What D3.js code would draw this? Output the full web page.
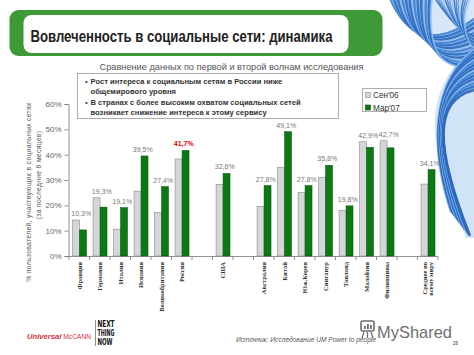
<!DOCTYPE html>
<html><head><meta charset="utf-8">
<script src="https://cdn.jsdelivr.net/npm/d3@7"></script>
<style>html,body{margin:0;padding:0;background:#fff;}svg{display:block;}</style>
</head><body>
<script>
const categories = ["Франция","Германия","Италия","Испания","Великобритания","Россия","","США","","Австралия","Китай","Юж.Корея","Сингапур","Таиланд","Малайзия","Филиппины","","Среднее по|всему миру"];
const sep06 = [14.2,23.0,10.6,25.6,17.1,38.3,null,28.3,null,19.6,35.0,25.0,31.1,18.0,45.1,45.5,null,28.4];
const mar07 = [10.3,19.3,19.1,39.5,27.4,41.7,null,32.6,null,27.8,49.1,27.8,35.8,19.8,42.9,42.7,null,34.1];
const yTicks = [0,10,20,30,40,50,60];
const seriesNames = ["Сен'06","Мар'07"];
const highlight = "Россия";
const bullets = [["Рост интереса к социальным сетям в России ниже","общемирового уровня"],["В странах с более высоким охватом социальных сетей","возникает снижение интереса к этому сервису"]];

const W=474,H=355;
const svg=d3.select("body").append("svg").attr("width",W).attr("height",H);
const F="'Liberation Sans', Arial, sans-serif";

// decorative swirl (top right)
const sw=svg.append("g");
const blues=["#1550a8","#2a6fcc","#5193df","#9cc6f0"];
sw.append("path").attr("d","M474,48 C442,70 428,110 438,150 C446,185 456,210 466,238 L474,238 Z").attr("fill","#bcd7f4").attr("opacity",0.7);
sw.append("path").attr("d","M398,0 C418,40 445,62 474,46 L474,0 Z").attr("fill","#c6ddf6").attr("opacity",0.7);
for(let i=0;i<44;i++){
  const t=i/43;
  sw.append("path")
    .attr("d",`M${390+t*42},0 C${402+t*25},${28+t*22} ${428+t*12},${52+t*18} 474,${18+t*50}`)
    .attr("fill","none").attr("stroke",blues[i%4])
    .attr("stroke-width",0.9+(i%3)*0.8).attr("opacity",0.75);
}
for(let i=0;i<48;i++){
  const t=i/47;
  sw.append("path")
    .attr("d",`M474,${48+t*42} C${436-t*4},${78+t*22} ${427+t*9},${138+t*12} ${450+t*20},${210+t*26}`)
    .attr("fill","none").attr("stroke",blues[(i+1)%4])
    .attr("stroke-width",0.9+(i%3)*0.9).attr("opacity",0.75);
}
for(let i=0;i<16;i++){
  const t=i/15;
  sw.append("path")
    .attr("d",`M${436+t*34},0 C${450+t*10},20 ${460+t*6},${32+t*10} 474,${36+t*12}`)
    .attr("fill","none").attr("stroke",blues[i%4]).attr("stroke-width",1.5).attr("opacity",0.75);
}

// title block
svg.append("rect").attr("x",9.5).attr("y",10).attr("width",373).attr("height",46).attr("rx",9).attr("fill","#3d9a37");
svg.append("rect").attr("x",23.5).attr("y",15).attr("width",325).attr("height",38).attr("rx",8).attr("fill","#fff");
svg.append("text").attr("x",30.5).attr("y",41.5).attr("font-family",F).attr("font-weight","bold").attr("font-size",16)
  .attr("fill","#222").attr("textLength",302).attr("lengthAdjust","spacingAndGlyphs")
  .text("Вовлеченность в социальные сети: динамика");

// subtitle
svg.append("text").attr("x",99.5).attr("y",70).attr("font-family",F).attr("font-size",9.5).attr("fill","#555")
  .attr("textLength",264).attr("lengthAdjust","spacingAndGlyphs")
  .text("Сравнение данных по первой и второй волнам исследования");

// bullet box
svg.append("rect").attr("x",77.5).attr("y",73.5).attr("width",261).attr("height",45).attr("fill","#fff").attr("stroke","#9a9a9a").attr("stroke-width",0.8);
const bl=[[83.5,93.5],[105,114.5]];
bullets.forEach((b,i)=>{
  svg.append("text").attr("x",85).attr("y",bl[i][0]).attr("font-family",F).attr("font-size",8).attr("fill","#444").text("•");
  b.forEach((ln,j)=>{
    svg.append("text").attr("x",90.5).attr("y",bl[i][j]).attr("font-family",F).attr("font-weight","bold")
      .attr("font-size",7.6).attr("fill","#333").text(ln);
  });
});

// legend
svg.append("rect").attr("x",362.5).attr("y",88.5).attr("width",64).attr("height",23).attr("fill","#fff").attr("stroke","#9a9a9a").attr("stroke-width",0.8);
const lc=[["#d4d6d8","#8a8a8a"],["#0b7a12","#0a4d0a"]];
seriesNames.forEach((n,i)=>{
  const yy=93+i*12.5;
  svg.append("rect").attr("x",365.5).attr("y",yy-0.5).attr("width",5).attr("height",5).attr("fill",lc[i][0]).attr("stroke",lc[i][1]).attr("stroke-width",0.6);
  svg.append("text").attr("x",373).attr("y",yy+5).attr("font-family",F).attr("font-size",8.2).attr("fill","#333").text(n);
});

// scales
const x=d3.scaleBand().domain(d3.range(categories.length)).range([69,438]).paddingInner(0.32).paddingOuter(0.16);
const y=d3.scaleLinear().domain([0,60]).range([256,104]);
const bw=x.bandwidth()/2;

// y axis
const ya=svg.append("g").attr("transform","translate(68.5,0)")
  .call(d3.axisLeft(y).tickValues(yTicks).tickSize(4).tickPadding(3).tickFormat(d=>d+"%"));
ya.select(".domain").attr("stroke","#777").attr("stroke-width",0.8);
ya.selectAll(".tick line").attr("stroke","#777").attr("stroke-width",0.8);
ya.selectAll(".tick text").attr("font-family",F).attr("font-size",8).attr("fill","#666");

// x axis baseline and ticks
const step=x.step();
svg.append("line").attr("x1",68.5).attr("x2",438).attr("y1",256.5).attr("y2",256.5).attr("stroke","#777").attr("stroke-width",0.8);
svg.append("g").selectAll("line").data(d3.range(categories.length+1)).join("line")
  .attr("x1",d=>69+d*step).attr("x2",d=>69+d*step).attr("y1",256.5).attr("y2",260)
  .attr("stroke","#777").attr("stroke-width",0.8);

// bars
const idx=d3.range(categories.length).filter(i=>sep06[i]!=null);
svg.append("g").selectAll("rect").data(idx).join("rect")
  .attr("x",i=>x(i)+0.3).attr("y",i=>y(sep06[i])).attr("width",bw).attr("height",i=>y(0)-y(sep06[i]))
  .attr("fill","#d4d6d8").attr("stroke","#8a8a8a").attr("stroke-width",0.6);
svg.append("g").selectAll("rect").data(idx).join("rect")
  .attr("x",i=>x(i)+bw+0.3).attr("y",i=>y(mar07[i])).attr("width",bw).attr("height",i=>y(0)-y(mar07[i]))
  .attr("fill","#0b7a12").attr("stroke","#0a4d0a").attr("stroke-width",0.5);

// value labels
const fmt=v=>d3.format(".1f")(v).replace(".",",")+"%";
svg.append("g").selectAll("text").data(idx).join("text")
  .attr("x",i=>x(i)+x.bandwidth()/2+2).attr("y",i=>y(Math.max(sep06[i],mar07[i]))-4)
  .attr("text-anchor","middle").attr("font-family",F).attr("font-size",7)
  .attr("font-weight",i=>categories[i]===highlight?"bold":"normal")
  .attr("fill",i=>categories[i]===highlight?"#e00000":"#777")
  .text(i=>fmt(mar07[i]));

// category labels (rotated)
const cg=svg.append("g");
idx.forEach(i=>{
  const lines=categories[i].split("|");
  const cx=x(i)+x.bandwidth()/2;
  lines.forEach((ln,j)=>{
    const off=(j-(lines.length-1)/2)*6.5+2.3;
    cg.append("text").attr("transform",`translate(${cx+off},262) rotate(-90)`)
      .attr("text-anchor","end").attr("font-family","'Liberation Serif', 'Times New Roman', serif")
      .attr("font-weight","bold").attr("font-size",6.5).attr("fill","#333").text(ln);
  });
});

// y axis title
svg.append("text").attr("transform","translate(31,192) rotate(-90)").attr("text-anchor","middle")
  .attr("font-family",F).attr("font-size",6.8).attr("fill","#555").attr("letter-spacing",0.3)
  .text("% пользователей, участвующих в социальных сетях");
svg.append("text").attr("transform","translate(41,175) rotate(-90)").attr("text-anchor","middle")
  .attr("font-family",F).attr("font-size",6.8).attr("fill","#555").attr("letter-spacing",0.3)
  .text("(за последние 6 месяцев)");

// footer logos
svg.append("text").attr("x",27).attr("y",338.5).attr("font-family",F).attr("font-size",7.5).attr("fill","#d2303e")
  .attr("textLength",64).attr("lengthAdjust","spacingAndGlyphs")
  .call(t=>{t.append("tspan").attr("font-weight","bold").attr("font-style","italic").text("Universal");
            t.append("tspan").attr("font-size",6.5).text(" McCANN");});
svg.append("line").attr("x1",95.5).attr("x2",95.5).attr("y1",320).attr("y2",346).attr("stroke","#444").attr("stroke-width",0.6);
["NEXT","THING","NOW"].forEach((w,i)=>{
  svg.append("text").attr("x",97.5).attr("y",327+i*9).attr("font-family","'Liberation Sans Narrow', 'DejaVu Sans Condensed', sans-serif")
    .attr("font-weight","bold").attr("font-size",8.6).attr("fill","#111")
    .attr("textLength",i==2?15:17).attr("lengthAdjust","spacingAndGlyphs").text(w);
});
svg.append("text").attr("x",236).attr("y",342).attr("font-family",F).attr("font-style","italic").attr("font-size",6.8).attr("fill","#555")
  .attr("textLength",140).attr("lengthAdjust","spacingAndGlyphs").text("Источник: Исследование UM Power to people");
svg.append("text").attr("x",453).attr("y",345).attr("font-family",F).attr("font-size",4.5).attr("fill","#333").text("26");

// watermark
const wm=svg.append("g").attr("opacity",0.85);
wm.append("rect").attr("x",361).attr("y",321).attr("width",13).attr("height",10).attr("rx",1.5).attr("fill","none").attr("stroke","#555").attr("stroke-width",1.6);
wm.append("rect").attr("x",364).attr("y",326).attr("width",1.8).attr("height",3).attr("fill","#555");
wm.append("rect").attr("x",367).attr("y",324).attr("width",1.8).attr("height",5).attr("fill","#555");
wm.append("rect").attr("x",370).attr("y",325).attr("width",1.8).attr("height",4).attr("fill","#555");
wm.append("path").attr("d","M364,332 L362,338 M367.5,332 L367.5,338 M371,332 L373,338").attr("stroke","#555").attr("stroke-width",1.2);
wm.append("text").attr("x",377).attr("y",337.5).attr("font-family",F).attr("font-size",17).attr("fill","#555")
  .attr("textLength",75).attr("lengthAdjust","spacingAndGlyphs").text("MyShared");
</script>
</body></html>
